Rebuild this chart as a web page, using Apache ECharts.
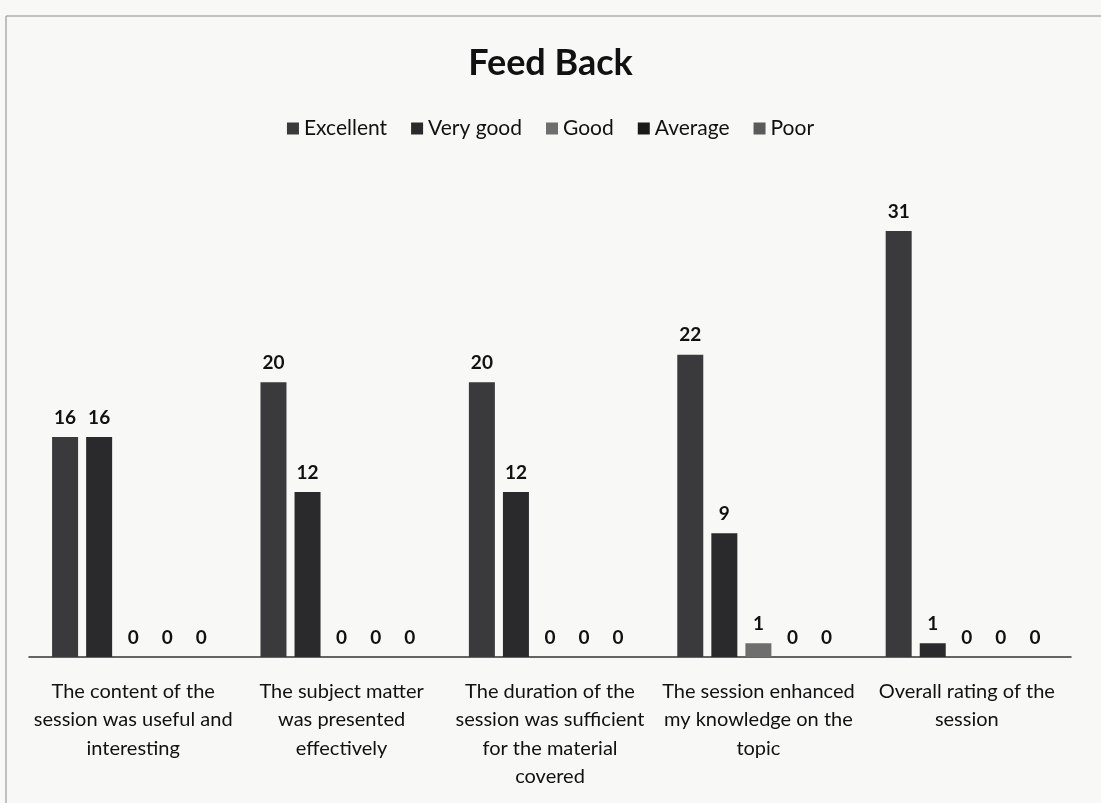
<!DOCTYPE html>
<html>
<head>
<meta charset="utf-8">
<script src="https://cdn.jsdelivr.net/npm/echarts@6/dist/echarts.min.js"></script>
<style>
  html, body { margin: 0; padding: 0; background: #f8f8f6; }
  #chart { width: 1101px; height: 803px; }
</style>
</head>
<body>
<div id="chart"></div>
<script>
var categories = [
  'The content of the\nsession was useful and\ninteresting',
  'The subject matter\nwas presented\neffectively',
  'The duration of the\nsession was sufficient\nfor the material\ncovered',
  'The session enhanced\nmy knowledge on the\ntopic',
  'Overall rating of the\nsession'
];
var excellent = [16, 20, 20, 22, 31];
var veryGood = [16, 12, 12, 9, 1];
var good = [0, 0, 0, 1, 0];
var average = [0, 0, 0, 0, 0];
var poor = [0, 0, 0, 0, 0];

var chart = echarts.init(document.getElementById('chart'));

function bar(name, data, color) {
  return {
    name: name,
    type: 'bar',
    data: data,
    barWidth: 26,
    barGap: '31%',
    itemStyle: { color: color },
    label: {
      show: true,
      position: 'top',
      distance: 10,
      color: '#111',
      fontSize: 19,
      fontFamily: 'Lato',
      fontWeight: 'bold'
    }
  };
}

var option = {
  backgroundColor: '#f8f8f6',
  textStyle: { fontFamily: 'Lato' },
  graphic: [{
    type: 'rect',
    shape: { x: 6, y: 16, width: 1100, height: 800 },
    style: { fill: 'none', stroke: '#888', lineWidth: 1 }
  }],
  title: {
    text: 'Feed Back',
    left: 'center',
    top: 40,
    textStyle: { fontSize: 36, fontWeight: 'bold', color: '#111', fontFamily: 'Lato' }
  },
  legend: {
    top: 113,
    left: 'center',
    itemWidth: 12,
    itemHeight: 12,
    itemGap: 24,
    icon: 'rect',
    textStyle: { fontSize: 21, color: '#111', fontFamily: 'Lato' },
    data: ['Excellent', 'Very good', 'Good', 'Average', 'Poor']
  },
  grid: { left: 29, right: 30, top: 176, bottom: 146, containLabel: false },
  xAxis: {
    type: 'category',
    data: categories,
    axisLine: { lineStyle: { color: '#333', width: 1.5 } },
    axisTick: { show: false },
    axisLabel: {
      interval: 0,
      margin: 20,
      fontSize: 20,
      lineHeight: 28.5,
      color: '#111',
      fontFamily: 'Lato'
    }
  },
  yAxis: {
    type: 'value',
    min: 0,
    max: 35,
    show: false,
    splitLine: { show: false }
  },
  series: [
    bar('Excellent', excellent, '#3a3a3d'),
    bar('Very good', veryGood, '#2a2a2c'),
    bar('Good', good, '#6e6e6e'),
    bar('Average', average, '#1a1a1a'),
    bar('Poor', poor, '#5a5a5a')
  ]
};

chart.setOption(option);
</script>
</body>
</html>
